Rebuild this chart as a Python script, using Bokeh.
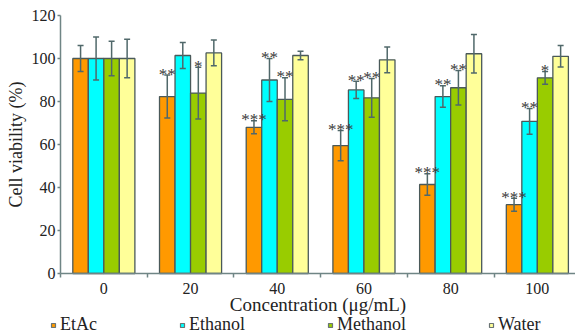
import numpy as np
from bokeh.plotting import figure
from bokeh.models import (Range1d, FixedTicker, ColumnDataSource, Whisker, TeeHead,
                          Legend, LegendItem)
from bokeh.core.properties import value
from bokeh.embed import file_html
from bokeh.resources import INLINE

# ---- data ----
concentrations = ["0", "20", "40", "60", "80", "100"]
series = ["EtAc", "Ethanol", "Methanol", "Water"]

etac_mean = [100, 82.3, 68.0, 59.5, 41.4, 32.0]
etac_sd = [6, 10, 3, 7, 5, 3]
ethanol_mean = [100, 101.4, 90.0, 85.4, 82.3, 70.8]
ethanol_sd = [10, 6, 10, 4, 5, 6]
methanol_mean = [100, 83.9, 81.0, 81.7, 86.4, 91.0]
methanol_sd = [8, 12, 10, 9, 8, 3]
water_mean = [100, 102.6, 101.4, 99.4, 102.2, 101.0]
water_sd = [9, 6, 2, 6, 9, 5]

etac_sig = ["", "**", "***", "***", "***", "***"]
ethanol_sig = ["", "", "**", "**", "**", "**"]
methanol_sig = ["", "*", "**", "**", "**", "*"]
water_sig = ["", "", "", "", "", ""]

y_ticks = [0, 20, 40, 60, 80, 100, 120]
colors = ["#FF9900", "#00FFFF", "#99CC00", "#FFFF99"]

means = [etac_mean, ethanol_mean, methanol_mean, water_mean]
sds = [etac_sd, ethanol_sd, methanol_sd, water_sd]
sigs = [etac_sig, ethanol_sig, methanol_sig, water_sig]

# ---- style / layout ----
FONT = "Liberation Serif"
BAR_W = 0.179
EDGE = "#4a5959"
ERR = "#50686a"
AXIS = "#6f8585"
W, H = 575, 335
PX_X = 86.7          # pixels per category
PX_Y = 2.15          # pixels per % unit
LEFT, TOP, BOTTOM = 60, 15, 62   # room for axes and legend (inside the frame)

n = len(concentrations)
centers = np.arange(n) + 0.5

x_range = Range1d(-LEFT / PX_X, (W - LEFT) / PX_X)
y_range = Range1d(-BOTTOM / PX_Y, 120 + TOP / PX_Y)

p = figure(width=W, height=H, x_range=x_range, y_range=y_range,
           output_backend="svg", toolbar_location=None,
           min_border=0, min_border_left=0, min_border_right=0,
           min_border_top=0, min_border_bottom=0)
p.xgrid.visible = False
p.ygrid.visible = False
p.outline_line_color = None

items = []
srcs = []
for k, name in enumerate(series):
    off = (k - 1.5) * BAR_W
    m = np.array(means[k], dtype=float)
    s = np.array(sds[k], dtype=float)
    src = ColumnDataSource(dict(x=centers + off, top=m, upper=m + s, lower=m - s,
                                sig=sigs[k]))
    srcs.append(src)
    p.vbar(x="x", top="top", bottom=0, width=BAR_W, source=src,
           fill_color=colors[k], line_color=EDGE, line_width=1.3)
    # small square swatch used only for the legend (no visible point in the plot)
    key = p.scatter(x=[np.nan], y=[np.nan], marker="square", size=7,
                    fill_color=colors[k], line_color="#6a7474", line_width=1.2)
    items.append(LegendItem(label=name, renderers=[key]))

for src in srcs:
    w = Whisker(base="x", upper="upper", lower="lower", source=src, level="annotation",
                line_color=ERR, line_width=1.5,
                upper_head=TeeHead(size=6, line_color=ERR, line_width=1.5),
                lower_head=TeeHead(size=6, line_color=ERR, line_width=1.5))
    p.add_layout(w)

for src in srcs:
    p.text(x="x", y="upper", text="sig", source=src, text_align="center",
           text_baseline="alphabetic", y_offset=-1, text_font=value(FONT),
           text_font_size="17px", text_color="#3a3a3a", level="overlay")

# x axis: labels at category centres, ticks at category boundaries
p.xaxis.fixed_location = 0
p.xaxis.bounds = (0, n)
p.xaxis.ticker = FixedTicker(ticks=list(centers), minor_ticks=list(range(n + 1)))
p.xaxis.major_label_overrides = {float(c): lab for c, lab in zip(centers, concentrations)}
p.xaxis.major_tick_out = 0
p.xaxis.major_tick_in = 0
p.xaxis.minor_tick_out = 4
p.xaxis.minor_tick_in = 0
p.xaxis.axis_label = "Concentration (μg/mL)"
p.xaxis.major_label_standoff = 5
p.xaxis.axis_label_standoff = -3

p.yaxis.fixed_location = 0
p.yaxis.bounds = (0, 120)
p.yaxis.ticker = FixedTicker(ticks=y_ticks)
p.yaxis.major_tick_out = 3
p.yaxis.major_tick_in = 0
p.yaxis.minor_tick_out = 0
p.yaxis.minor_tick_in = 0
p.yaxis.axis_label = "Cell viability (%)"
p.yaxis.major_label_standoff = 2
p.yaxis.axis_label_standoff = 3

for ax in (p.xaxis[0], p.yaxis[0]):
    ax.axis_line_color = AXIS
    ax.axis_line_width = 1.5
    ax.major_tick_line_color = AXIS
    ax.minor_tick_line_color = AXIS
    ax.major_tick_line_width = 1.5
    ax.minor_tick_line_width = 1.5
    ax.major_label_text_font = FONT
    ax.major_label_text_font_size = "16px"
    ax.major_label_text_color = "#222222"
    ax.axis_label_text_font = FONT
    ax.axis_label_text_font_style = "normal"
    ax.axis_label_text_color = "#222222"
p.xaxis.axis_label_text_font_size = "19px"
p.yaxis.axis_label_text_font_size = "18px"

legend = Legend(items=items, orientation="horizontal", location=(48, 0),
                spacing=80, glyph_width=10, glyph_height=10, label_standoff=2,
                label_height=16, padding=0, margin=0,
                label_text_font=FONT, label_text_font_size="18px",
                label_text_color="#222222",
                border_line_color=None, background_fill_alpha=0)
p.add_layout(legend, "center")

open("out.html", "w").write(file_html(p, INLINE))
